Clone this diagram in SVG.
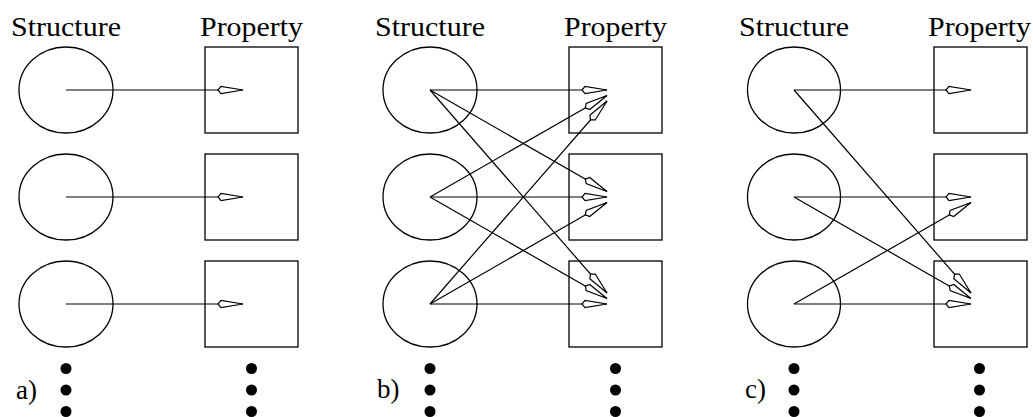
<svg xmlns="http://www.w3.org/2000/svg" width="1033" height="417" viewBox="0 0 1033 417">
<style>
.s{fill:none;stroke:#000;stroke-width:1.3}
.c{fill:none;stroke:#000;stroke-width:1.2;marker-end:url(#ah)}
.t{font-family:"Liberation Serif","Times New Roman",serif;font-size:27px;fill:#000}
.d{fill:#000}
</style>
<defs>
<marker id="ah" markerUnits="userSpaceOnUse" viewBox="-27 -5 30 10" markerWidth="30" markerHeight="10" refX="0" refY="0" orient="auto" overflow="visible">
<path d="M0,0 L-22,-3.6 L-25,0 L-22,3.6 Z" fill="#fff" stroke="#000" stroke-width="1.2" stroke-linejoin="miter"/>
</marker>
</defs>
<rect width="1033" height="417" fill="#fff"/>
<g id="labels">
<text class="t" x="66" y="36" text-anchor="middle" textLength="110" lengthAdjust="spacingAndGlyphs">Structure</text>
<text class="t" x="251.5" y="36" text-anchor="middle" textLength="103" lengthAdjust="spacingAndGlyphs">Property</text>
<text class="t" x="430" y="36" text-anchor="middle" textLength="110" lengthAdjust="spacingAndGlyphs">Structure</text>
<text class="t" x="615.5" y="36" text-anchor="middle" textLength="103" lengthAdjust="spacingAndGlyphs">Property</text>
<text class="t" x="794" y="36" text-anchor="middle" textLength="110" lengthAdjust="spacingAndGlyphs">Structure</text>
<text class="t" x="979.5" y="36" text-anchor="middle" textLength="103" lengthAdjust="spacingAndGlyphs">Property</text>
<text class="t" x="16" y="399">a)</text>
<text class="t" x="377" y="398">b)</text>
<text class="t" x="745" y="398">c)</text>
</g>
<g id="panel-a-nodes">
<g id="a-s1"><ellipse class="s" cx="66" cy="90" rx="47" ry="43"/></g>
<g id="a-s2"><ellipse class="s" cx="66" cy="197" rx="47" ry="43"/></g>
<g id="a-s3"><ellipse class="s" cx="66" cy="304" rx="47" ry="43"/></g>
<g id="a-p1"><rect class="s" x="205" y="47" width="93" height="86"/></g>
<g id="a-p2"><rect class="s" x="205" y="154" width="93" height="86"/></g>
<g id="a-p3"><rect class="s" x="205" y="261" width="93" height="86"/></g>
</g>
<g id="panel-b-nodes">
<g id="b-s1"><ellipse class="s" cx="430" cy="90" rx="47" ry="43"/></g>
<g id="b-s2"><ellipse class="s" cx="430" cy="197" rx="47" ry="43"/></g>
<g id="b-s3"><ellipse class="s" cx="430" cy="304" rx="47" ry="43"/></g>
<g id="b-p1"><rect class="s" x="569" y="47" width="93" height="86"/></g>
<g id="b-p2"><rect class="s" x="569" y="154" width="93" height="86"/></g>
<g id="b-p3"><rect class="s" x="569" y="261" width="93" height="86"/></g>
</g>
<g id="panel-c-nodes">
<g id="c-s1"><ellipse class="s" cx="794" cy="90" rx="46.5" ry="43"/></g>
<g id="c-s2"><ellipse class="s" cx="794" cy="197" rx="46.5" ry="43"/></g>
<g id="c-s3"><ellipse class="s" cx="794" cy="304" rx="46.5" ry="43"/></g>
<g id="c-p1"><rect class="s" x="934" y="47" width="93" height="86"/></g>
<g id="c-p2"><rect class="s" x="934" y="154" width="93" height="86"/></g>
<g id="c-p3"><rect class="s" x="934" y="261" width="93" height="86"/></g>
</g>
<g id="dots">
<circle class="d" cx="66" cy="368.5" r="5.5"/><circle class="d" cx="66" cy="390" r="5.5"/><circle class="d" cx="66" cy="411.5" r="5.5"/>
<circle class="d" cx="251.5" cy="368.5" r="5.5"/><circle class="d" cx="251.5" cy="390" r="5.5"/><circle class="d" cx="251.5" cy="411.5" r="5.5"/>
<circle class="d" cx="430" cy="368.5" r="5.5"/><circle class="d" cx="430" cy="390" r="5.5"/><circle class="d" cx="430" cy="411.5" r="5.5"/>
<circle class="d" cx="615.5" cy="368.5" r="5.5"/><circle class="d" cx="615.5" cy="390" r="5.5"/><circle class="d" cx="615.5" cy="411.5" r="5.5"/>
<circle class="d" cx="794" cy="368.5" r="5.5"/><circle class="d" cx="794" cy="390" r="5.5"/><circle class="d" cx="794" cy="411.5" r="5.5"/>
<circle class="d" cx="979.5" cy="368.5" r="5.5"/><circle class="d" cx="979.5" cy="390" r="5.5"/><circle class="d" cx="979.5" cy="411.5" r="5.5"/>
</g>
<g id="connectors">
<path class="c" d="M66,90 L243,90"/>
<path class="c" d="M66,197 L243,197"/>
<path class="c" d="M66,304 L243,304"/>
<path class="c" d="M430,90 L607,90"/>
<path class="c" d="M430,90 L607,191.5"/>
<path class="c" d="M430,90 L607,293"/>
<path class="c" d="M430,197 L607,95.5"/>
<path class="c" d="M430,197 L607,197"/>
<path class="c" d="M430,197 L607,298.5"/>
<path class="c" d="M430,304 L607,101"/>
<path class="c" d="M430,304 L607,202.5"/>
<path class="c" d="M430,304 L607,304"/>
<path class="c" d="M794,90 L971,90"/>
<path class="c" d="M794,90 L971,293"/>
<path class="c" d="M794,197 L971,197"/>
<path class="c" d="M794,197 L971,298.5"/>
<path class="c" d="M794,304 L971,202.5"/>
<path class="c" d="M794,304 L971,304"/>
</g>
</svg>
